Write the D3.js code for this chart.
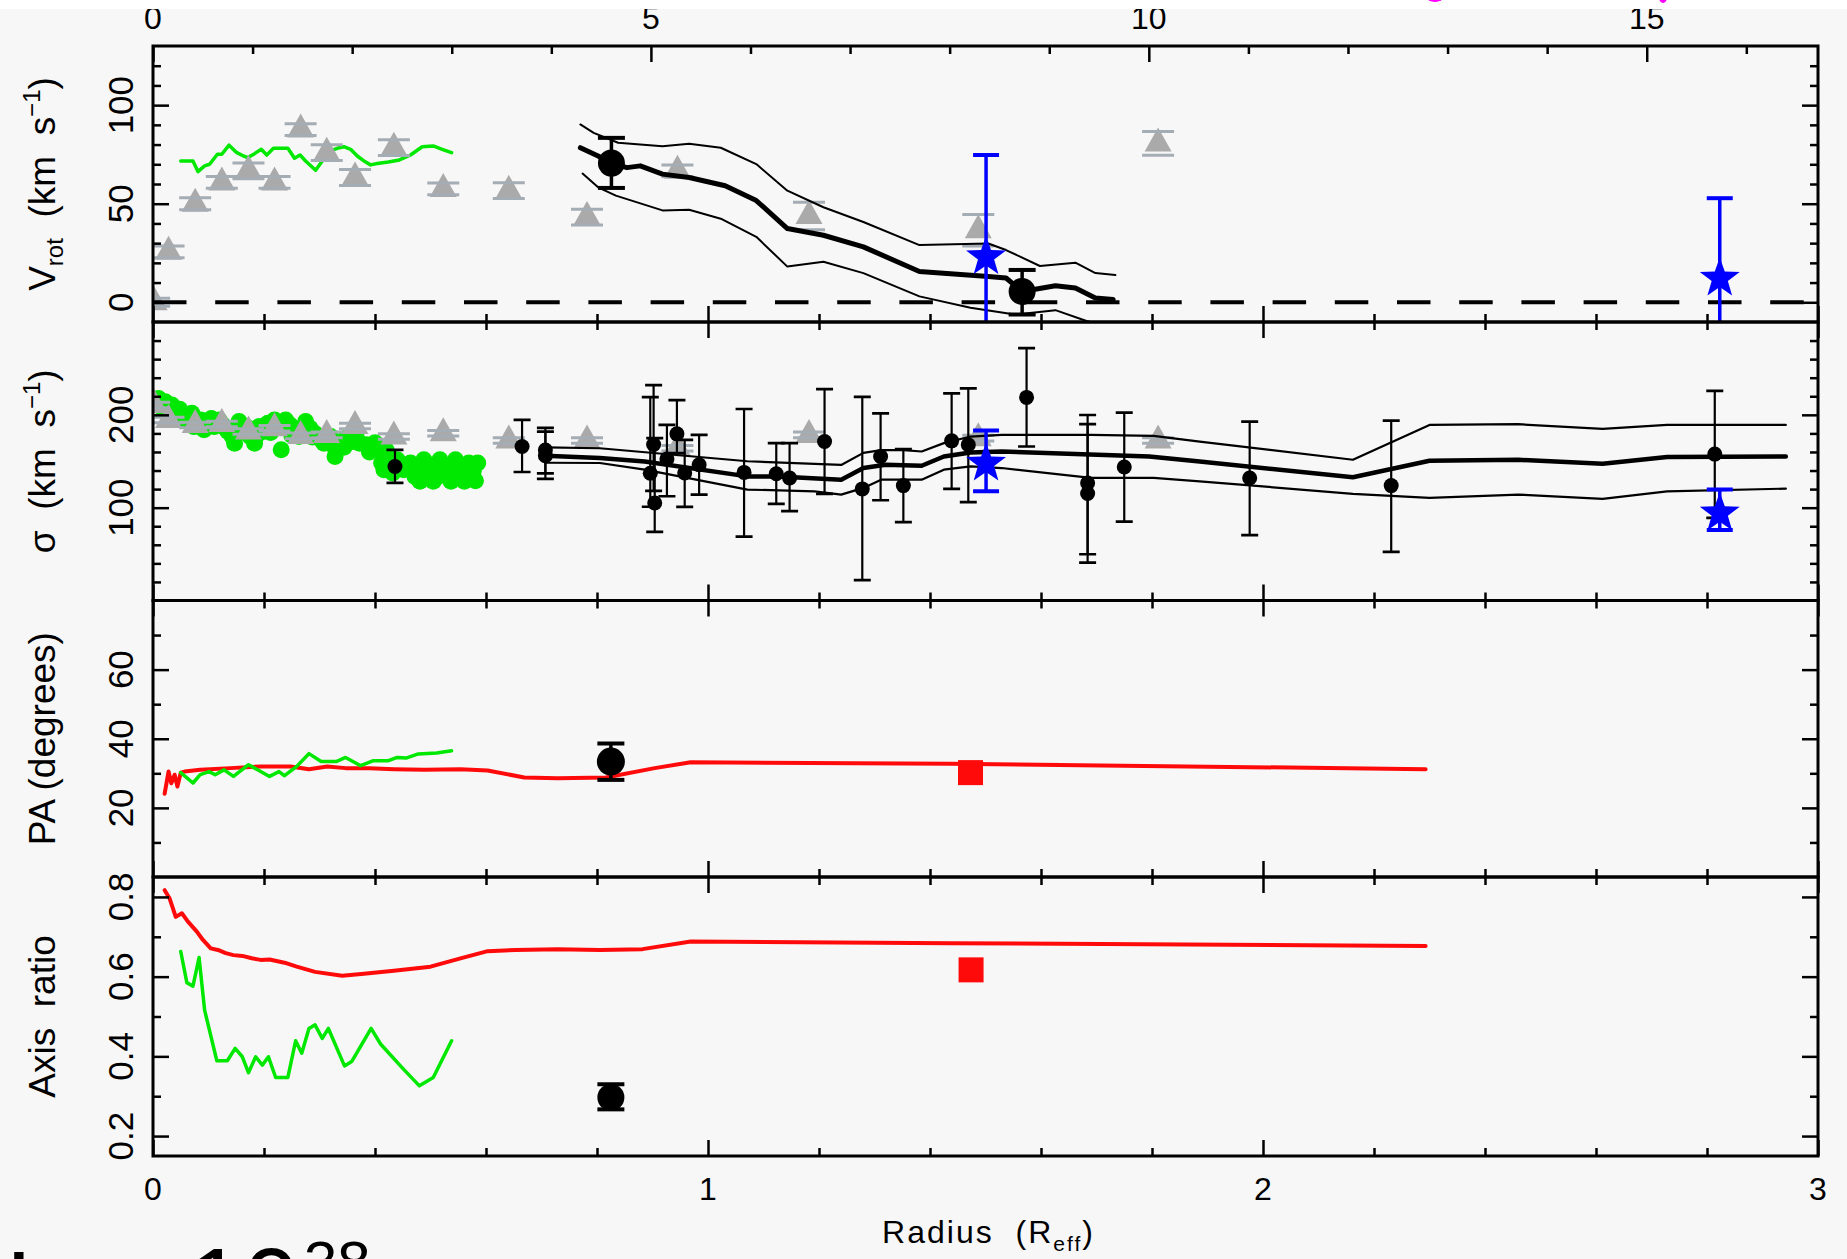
<!DOCTYPE html>
<html><head><meta charset="utf-8">
<script src="https://cdn.jsdelivr.net/npm/d3@7"></script>
<style>
body{margin:0;background:#f7f7f7;}
svg{display:block;overflow:hidden;}
text{font-family:"Liberation Sans",Arial,sans-serif;fill:#000;white-space:pre;}
</style></head><body>
<svg id="chart" width="1847" height="1259"></svg>
<script>
// ---------------- DATA ----------------
const radiusMajor=[0,1,2,3];
const radiusMinor=[0.2,0.4,0.6,0.8,1.2,1.4,1.6,1.8,2.2,2.4,2.6,2.8];
const kpcMajor=[0,5,10,15];
const kpcMinor=[1,2,3,4,6,7,8,9,11,12,13,14,16];
const vrotTicks=[0,50,100];
const vrotMinor=[10,20,30,40,60,70,80,90,110,120];
const sigmaTicks=[100,200];
const sigmaMinor=[20,40,60,80,120,140,160,180,220,240,260,280];
const paTicks=[20,40,60];
const paMinor=[10,30,50,70];
const qTicks=[0.2,0.4,0.6,0.8];
const qMinor=[0.3,0.5,0.7];

// Panel 1: rotation velocity
const vrotTriangles=[[0.002,0,2],[0.028,25.6,3],[0.076,50,3],[0.124,60.8,3],[0.172,66.7,4],[0.219,60.8,3],[0.266,87.6,3],[0.313,75.9,4],[0.364,63.3,4],[0.434,78.4,4],[0.523,57.5,3],[0.641,56.6,4],[0.782,43.2,4],[0.945,66.7,3],[1.182,43.8,7],[1.487,36.5,8],[1.811,80.6,6]];
const vrotGreen=[[0.050,71.7],[0.072,71.7],[0.081,66.3],[0.093,69.2],[0.102,70.0],[0.116,75.1],[0.124,75.1],[0.137,79.7],[0.151,75.9],[0.163,74.2],[0.171,73.4],[0.183,75.4],[0.195,77.6],[0.205,74.7],[0.217,78.1],[0.230,78.1],[0.243,78.1],[0.255,73.1],[0.265,74.7],[0.275,71.7],[0.293,67.0],[0.303,70.9],[0.318,76.7],[0.332,78.1],[0.344,78.9],[0.356,77.6],[0.368,74.2],[0.380,71.7],[0.392,69.7],[0.404,70.4],[0.424,71.2],[0.444,72.2],[0.464,74.7],[0.485,78.9],[0.505,79.3],[0.521,77.6],[0.538,75.9]];
const vrotModel=[[0.770,78.4],[0.802,74.2],[0.826,70.6],[0.854,68.3],[0.878,69.2],[0.918,65.0],[0.966,63.3],[1.031,59.1],[1.087,51.6],[1.143,37.4],[1.208,34.0],[1.280,28.1],[1.381,15.6],[1.505,13.1],[1.537,12.3],[1.566,5.5],[1.626,8.4],[1.662,7.2],[1.698,2.2],[1.730,1.4]];
const vrotUpper=[[0.770,90.2],[0.794,85.9],[0.838,80.9],[0.918,79.2],[0.966,80.4],[1.023,78.4],[1.087,70.1],[1.143,56.6],[1.208,48.2],[1.280,40.7],[1.381,29.0],[1.505,29.8],[1.537,26.5],[1.598,18.4],[1.662,20.1],[1.698,14.8],[1.734,13.8]];
const vrotLower=[[0.774,65.3],[0.802,58.3],[0.834,54.1],[0.918,46.6],[0.966,46.9],[1.023,42.4],[1.087,33.2],[1.143,18.1],[1.208,20.6],[1.280,14.8],[1.381,3.0],[1.473,-2.8],[1.553,-6.2],[1.626,-4.0],[1.682,-9.5],[1.730,-13]];
const vrotCircles=[[0.826,70.6,58.0,83.4],[1.566,5.5,-6.2,16.4]];
const vrotStars=[[1.501,24,-27,74.7],[2.823,13.1,-27,52.8]];

// Panel 2: velocity dispersion
const sigmaGreen=[[0.010,217.7],[0.022,214.1],[0.034,210.5],[0.042,205.2],[0.054,198.0],[0.062,192.7],[0.070,201.6],[0.074,187.3],[0.086,194.5],[0.098,190.9],[0.110,187.3],[0.119,194.5],[0.126,189.1],[0.135,182.0],[0.143,176.6],[0.147,169.5],[0.155,192.7],[0.163,183.8],[0.175,176.6],[0.183,169.5],[0.191,187.3],[0.199,182.0],[0.207,190.9],[0.219,194.5],[0.227,189.1],[0.231,162.3],[0.239,194.5],[0.247,189.1],[0.255,182.0],[0.263,176.6],[0.275,192.7],[0.283,185.6],[0.291,180.2],[0.299,174.9],[0.308,169.5],[0.320,176.6],[0.328,155.1],[0.336,169.5],[0.348,174.9],[0.360,171.2],[0.372,169.5],[0.384,167.7],[0.396,165.9],[0.408,162.3],[0.412,148.1],[0.416,140.9],[0.424,155.1],[0.432,137.4],[0.440,151.6],[0.452,140.9],[0.464,148.1],[0.472,133.7],[0.481,128.4],[0.488,151.6],[0.496,140.9],[0.505,128.4],[0.517,151.6],[0.529,144.4],[0.537,128.4],[0.545,151.6],[0.553,140.9],[0.561,128.4],[0.565,133.7],[0.569,148.1],[0.577,139.1],[0.585,148.1],
 [0.016,208],[0.048,206],[0.066,196],[0.092,184],[0.105,196],[0.130,186],[0.170,186],[0.187,178],[0.212,181],[0.250,178],[0.270,184],[0.287,176],[0.312,178],[0.325,167],[0.344,165],[0.366,176],[0.390,160],[0.400,170],[0.420,162],[0.448,147],[0.476,143],[0.500,146],[0.512,133],[0.525,136],[0.549,133],[0.581,129]];
const sigmaTriangles=[[0.002,210.5,3],[0.028,194.5,3],[0.076,189.1,3],[0.124,190.2,3],[0.172,182,3],[0.219,185.6,3],[0.266,177.3,3],[0.313,178.4,3],[0.364,188,3],[0.434,176.6,3],[0.523,180.2,3],[0.641,172.3,3],[0.782,172.3,3],[0.945,164.1,3],[1.182,178.4,3],[1.487,174.9,3],[1.811,172.3,3]];
const sigmaPoints=[[0.436,144.4,126.6,162.3],[0.665,165.9,138.4,194.5],[0.707,162,137,186],[0.707,156,131,182],[0.902,168,118,232],[0.896,137,101,219],[0.904,105,74,175],[0.926,152.4,112.3,189.1],[0.944,179.5,158.8,215.9],[0.958,137.4,100.9,173],[0.984,146.3,114.1,178.4],[1.065,138,68.8,206.3],[1.123,136.6,104.1,169.5],[1.147,132,96.2,169.5],[1.210,171.2,114.9,227.7],[1.278,120.2,22,219.4],[1.311,155.1,108,201.6],[1.352,123.8,84.5,163.1],[1.439,172,120.2,223.1],[1.469,167.7,105.9,228.4],[1.574,218.8,165.9,271.9],[1.684,126.6,49.8,199.8],[1.684,115.2,40.9,189.9],[1.750,143.8,84.9,202.3],[1.976,132,70.5,192.7],[2.231,123.8,52.3,193.7],[2.814,157.7,89.1,225.9]];
const sigmaModel=[[0.707,156],[0.805,153.4],[0.886,149.8],[1.071,133.7],[1.127,133.7],[1.240,130.2],[1.280,142.7],[1.320,146.3],[1.385,145.2],[1.425,155.1],[1.473,159.5],[1.529,160.5],[1.795,155.1],[1.886,149.8],[2.162,132.7],[2.300,150.5],[2.460,151.6],[2.612,147.3],[2.728,154.5],[2.942,155.1]];
const sigmaUpper=[[0.707,165],[0.805,164],[1.071,150],[1.240,146],[1.280,159],[1.312,162],[1.352,162],[1.385,160.5],[1.425,169.5],[1.473,176.6],[1.529,178.4],[1.690,178.4],[1.803,177.3],[1.886,171.2],[2.162,151.6],[2.300,189.1],[2.460,189.9],[2.612,184.8],[2.728,189.1],[2.942,189.1]];
const sigmaLower=[[0.707,148.4],[0.805,148.1],[0.886,140.9],[1.071,119.5],[1.192,117.6],[1.240,114.1],[1.280,121.3],[1.312,130.2],[1.385,130.2],[1.425,140.9],[1.473,144.4],[1.529,142.7],[1.690,132],[1.803,132],[1.886,128.4],[2.162,114.9],[2.300,110.6],[2.460,114.1],[2.612,109.5],[2.728,117.6],[2.942,120.5]];
const sigmaStars=[[1.501,149.8,117.6,183],[2.823,96.2,75.9,119.5]];

// Panel 3: position angle
const paRed=[[0.021,24.1],[0.028,30.5],[0.033,27.1],[0.039,29.6],[0.044,26.2],[0.050,30.2],[0.057,30.5],[0.085,31.0],[0.139,31.5],[0.194,32.0],[0.248,32.0],[0.281,31.2],[0.314,32.0],[0.347,31.5],[0.390,31.5],[0.434,31.2],[0.489,31.0],[0.554,31.2],[0.603,30.8],[0.669,28.8],[0.729,28.6],[0.816,28.8],[0.904,31.5],[0.969,33.2],[1.437,32.8],[2.293,31.2]];
const paGreen=[[0.050,30.2],[0.072,27.2],[0.085,29.6],[0.101,30.5],[0.112,29.6],[0.128,31.0],[0.145,29.1],[0.172,32.5],[0.210,29.1],[0.227,30.5],[0.237,29.3],[0.259,32.0],[0.281,35.7],[0.303,33.4],[0.330,33.4],[0.347,34.6],[0.374,32.2],[0.396,33.6],[0.423,33.6],[0.440,34.6],[0.456,34.4],[0.478,35.6],[0.511,35.9],[0.538,36.5]];
const paCircles=[[0.825,33.4,28.1,38.6]];
const paSquares=[[1.473,30.2]];

// Panel 4: axis ratio
const qRed=[[0.021,0.817],[0.030,0.796],[0.041,0.750],[0.052,0.759],[0.063,0.738],[0.079,0.713],[0.090,0.692],[0.104,0.671],[0.117,0.667],[0.131,0.659],[0.145,0.654],[0.161,0.652],[0.178,0.646],[0.194,0.642],[0.210,0.643],[0.237,0.635],[0.259,0.625],[0.292,0.612],[0.341,0.602],[0.380,0.607],[0.434,0.615],[0.500,0.625],[0.554,0.646],[0.603,0.664],[0.653,0.667],[0.729,0.669],[0.805,0.667],[0.882,0.669],[0.969,0.688],[1.437,0.684],[2.293,0.677]];
const qGreen=[[0.050,0.663],[0.061,0.585],[0.072,0.576],[0.083,0.648],[0.093,0.516],[0.115,0.389],[0.134,0.389],[0.148,0.420],[0.161,0.399],[0.172,0.359],[0.185,0.399],[0.197,0.378],[0.208,0.399],[0.221,0.347],[0.243,0.347],[0.257,0.439],[0.268,0.408],[0.281,0.470],[0.292,0.479],[0.305,0.445],[0.316,0.470],[0.345,0.376],[0.358,0.387],[0.393,0.470],[0.410,0.431],[0.450,0.370],[0.480,0.326],[0.505,0.347],[0.538,0.439]];
const qCircles=[[0.825,0.297,0.267,0.330]];
const qSquares=[[1.474,0.617]];

// ---------------- LAYOUT ----------------
const W=1847,H=1259,L=153,R=1818;
const edges=[46,322,600.5,877,1156];
const GREEN="#00e800",RED="#ff0a0a",BLUE="#0000ff",GRAY="#aaaaaa",CAPGRAY="#a4acb4";
const x=d3.scaleLinear().domain([0,3]).range([L,R]);
const xTop=d3.scaleLinear().domain([0,16.72]).range([L,R]);
const yV=d3.scaleLinear().domain([-10,130]).range([edges[1],edges[0]]);
const yS=d3.scaleLinear().domain([0,300]).range([edges[2],edges[1]]);
const yP=d3.scaleLinear().domain([0,80]).range([edges[3],edges[2]]);
const yQ=d3.scaleLinear().domain([0.15,0.85]).range([edges[4],edges[3]]);

const svg=d3.select('#chart');
svg.append('rect').attr('width',W).attr('height',H).attr('fill','#f7f7f7');
const defs=svg.append('defs');

const panels=[
 {y:yV,top:edges[0],bot:edges[1],major:vrotTicks,minor:vrotMinor,fmt:d3.format('d')},
 {y:yS,top:edges[1],bot:edges[2],major:sigmaTicks,minor:sigmaMinor,fmt:d3.format('d')},
 {y:yP,top:edges[2],bot:edges[3],major:paTicks,minor:paMinor,fmt:d3.format('d')},
 {y:yQ,top:edges[3],bot:edges[4],major:qTicks,minor:qMinor,fmt:d3.format('.1f')}
];
panels.forEach((p,i)=>{
  defs.append('clipPath').attr('id','clip'+i).append('rect')
   .attr('x',L).attr('y',p.top).attr('width',R-L).attr('height',p.bot-p.top);
  p.g=svg.append('g').attr('clip-path','url(#clip'+i+')');
});

const line=(ys)=>d3.line().x(d=>x(d[0])).y(d=>ys(d[1]));
function drawLine(g,ys,data,color,w){
  g.append('path').datum(data).attr('d',line(ys)).attr('fill','none')
   .attr('stroke',color).attr('stroke-width',w).attr('stroke-linejoin','round').attr('stroke-linecap','round');
}
function errBars(g,ys,data,color,sw,cw,capw){
  const e=g.append('g').attr('stroke',color).attr('fill','none');
  e.selectAll('line.v').data(data).join('line').attr('class','v')
   .attr('x1',d=>x(d[0])).attr('x2',d=>x(d[0])).attr('y1',d=>ys(d[2])).attr('y2',d=>ys(d[3])).attr('stroke-width',sw);
  const caps=[];data.forEach(d=>{caps.push([d[0],d[2]]);caps.push([d[0],d[3]]);});
  e.selectAll('line.c').data(caps).join('line').attr('class','c')
   .attr('x1',d=>x(d[0])-cw/2).attr('x2',d=>x(d[0])+cw/2).attr('y1',d=>ys(d[1])).attr('y2',d=>ys(d[1])).attr('stroke-width',capw);
}
function triangles(g,ys,data){
  const tw=27,th=24;
  g.append('g').selectAll('path').data(data).join('path')
   .attr('d',`M0,${-th*2/3}L${tw/2},${th/3}L${-tw/2},${th/3}Z`)
   .attr('transform',d=>`translate(${x(d[0])},${ys(d[1])})`).attr('fill',GRAY);
  const caps=[];data.forEach(d=>{caps.push([d[0],d[1]-d[2]]);caps.push([d[0],d[1]+d[2]]);});
  g.append('g').selectAll('line').data(caps).join('line')
   .attr('x1',d=>x(d[0])-16).attr('x2',d=>x(d[0])+16).attr('y1',d=>ys(d[1])).attr('y2',d=>ys(d[1]))
   .attr('stroke',CAPGRAY).attr('stroke-width',3);
}
function starPath(ro,ri){
  let s='';
  for(let k=0;k<10;k++){const r=k%2?ri:ro;const a=-Math.PI/2+k*Math.PI/5;s+=(k?'L':'M')+(r*Math.cos(a)).toFixed(2)+','+(r*Math.sin(a)).toFixed(2);}
  return s+'Z';
}
function stars(g,ys,data){
  errBars(g,ys,data,BLUE,3.5,26,4);
  g.append('g').selectAll('path').data(data).join('path').attr('d',starPath(21,8.5))
   .attr('transform',d=>`translate(${x(d[0])},${ys(d[1])+2})`).attr('fill',BLUE);
}
function circles(g,ys,data,r,sw,cw){
  errBars(g,ys,data,'#000',sw,cw,sw+0.5);
  g.append('g').selectAll('circle').data(data).join('circle')
   .attr('cx',d=>x(d[0])).attr('cy',d=>ys(d[1])).attr('r',r).attr('fill','#000');
}
function squares(g,ys,data){
  g.append('g').selectAll('rect').data(data).join('rect')
   .attr('x',d=>x(d[0])-12.5).attr('y',d=>ys(d[1])-12.5).attr('width',25).attr('height',25).attr('fill',RED);
}

// Panel 1
{const g=panels[0].g,ys=yV;
 drawLine(g,ys,vrotGreen,GREEN,3.5);
 triangles(g,ys,vrotTriangles);
 drawLine(g,ys,vrotUpper,'#000',2);
 drawLine(g,ys,vrotLower,'#000',2);
 drawLine(g,ys,vrotModel,'#000',5);
 g.append('line').attr('x1',L).attr('x2',R).attr('y1',ys(0)).attr('y2',ys(0))
  .attr('stroke','#000').attr('stroke-width',4).attr('stroke-dasharray','33.5,28.7');
 circles(g,ys,vrotCircles,13.5,3.5,27);
 stars(g,ys,vrotStars);}
// Panel 2
{const g=panels[1].g,ys=yS;
 g.append('g').selectAll('circle').data(sigmaGreen).join('circle')
  .attr('cx',d=>x(d[0])).attr('cy',d=>ys(d[1])).attr('r',8.5).attr('fill',GREEN);
 triangles(g,ys,sigmaTriangles);
 drawLine(g,ys,sigmaUpper,'#000',2.2);
 drawLine(g,ys,sigmaLower,'#000',2.2);
 drawLine(g,ys,sigmaModel,'#000',4.5);
 circles(g,ys,sigmaPoints,7.5,2.2,17);
 stars(g,ys,sigmaStars);}
// Panel 3
{const g=panels[2].g,ys=yP;
 drawLine(g,ys,paRed,RED,4);
 drawLine(g,ys,paGreen,GREEN,3.5);
 circles(g,ys,paCircles,14,3.5,27);
 squares(g,ys,paSquares);}
// Panel 4
{const g=panels[3].g,ys=yQ;
 drawLine(g,ys,qRed,RED,4);
 drawLine(g,ys,qGreen,GREEN,3.5);
 circles(g,ys,qCircles,13.5,3.5,27);
 squares(g,ys,qSquares);}

// ---------------- AXES ----------------
function tickGroup(axis,tx,ty,vals,size){
  const a=svg.append('g').attr('transform',`translate(${tx},${ty})`)
   .call(axis.tickValues(vals).tickSize(size).tickFormat(''));
  a.select('.domain').remove();
  a.selectAll('line').attr('stroke','#000').attr('stroke-width',2.5);
  a.selectAll('text').remove();
}
panels.forEach((p,i)=>{
  tickGroup(d3.axisLeft(p.y),L,0,p.major,-16);
  tickGroup(d3.axisLeft(p.y),L,0,p.minor,-8);
  tickGroup(d3.axisRight(p.y),R,0,p.major,-16);
  tickGroup(d3.axisRight(p.y),R,0,p.minor,-8);
  tickGroup(d3.axisBottom(x),0,p.bot,radiusMajor,-16);
  tickGroup(d3.axisBottom(x),0,p.bot,radiusMinor,-8);
  if(i===0){
    tickGroup(d3.axisTop(xTop),0,p.top,kpcMajor,-16);
    tickGroup(d3.axisTop(xTop),0,p.top,kpcMinor,-8);
  } else {
    tickGroup(d3.axisTop(x),0,p.top,radiusMajor,-16);
    tickGroup(d3.axisTop(x),0,p.top,radiusMinor,-8);
  }
  svg.append('rect').attr('x',L).attr('y',p.top).attr('width',R-L).attr('height',p.bot-p.top)
   .attr('fill','none').attr('stroke','#000').attr('stroke-width',3);
  svg.append('g').selectAll('text').data(p.major).join('text')
   .attr('transform',d=>`translate(133,${p.y(d)}) rotate(-90)`)
   .attr('text-anchor','middle').attr('font-size',35).text(p.fmt);
});
svg.append('g').selectAll('text').data(radiusMajor).join('text')
 .attr('x',d=>x(d)).attr('y',1200).attr('text-anchor','middle').attr('font-size',32).text(d=>d);
svg.append('g').selectAll('text').data(kpcMajor).join('text')
 .attr('x',d=>xTop(d)).attr('y',28.5).attr('text-anchor','middle').attr('font-size',32).text(d=>d);

function ytitle(p,build){
  const cy=(p.top+p.bot)/2;
  const t=svg.append('text').attr('transform',`translate(55,${cy}) rotate(-90)`).attr('text-anchor','middle').attr('font-size',37);
  build(t);
}
ytitle(panels[0],t=>{
  t.append('tspan').text('V');
  t.append('tspan').attr('font-size',24).attr('dy',8).text('rot');
  t.append('tspan').attr('dy',-8).text('  (km  s');
  t.append('tspan').attr('font-size',24).attr('dy',-15).text('\u22121');
  t.append('tspan').attr('dy',15).text(')');
});
ytitle(panels[1],t=>{
  t.append('tspan').text('\u03c3  (km  s');
  t.append('tspan').attr('font-size',24).attr('dy',-15).text('\u22121');
  t.append('tspan').attr('dy',15).text(')');
});
ytitle(panels[2],t=>t.text('PA (degrees)'));
ytitle(panels[3],t=>t.text('Axis  ratio'));
{const t=svg.append('text').attr('x',x(1.5)+3).attr('y',1243).attr('text-anchor','middle').attr('font-size',32).attr('letter-spacing',2);
 t.append('tspan').text('Radius  (R');
 t.append('tspan').attr('font-size',21).attr('dy',8).text('eff');
 t.append('tspan').attr('dy',-8).text(')');}

// cropped slide text at the bottom-left (cut by the image edge, as in the reference)
svg.append('text').attr('x',6).attr('y',1321).attr('font-size',100).text('L');
svg.append('text').attr('x',188).attr('y',1318).attr('font-size',100).text('10');
svg.append('text').attr('x',304).attr('y',1283).attr('font-size',60).text('38');

// white strip at the top with cropped magenta slide text
svg.append('rect').attr('x',0).attr('y',0).attr('width',W).attr('height',9).attr('fill','#ffffff');
svg.append('ellipse').attr('cx',1435).attr('cy',-4).attr('rx',9).attr('ry',6).attr('fill','#ff00ff');
svg.append('ellipse').attr('cx',1663).attr('cy',-3).attr('rx',4).attr('ry',6).attr('fill','#ff00ff');
</script>
</body></html>
